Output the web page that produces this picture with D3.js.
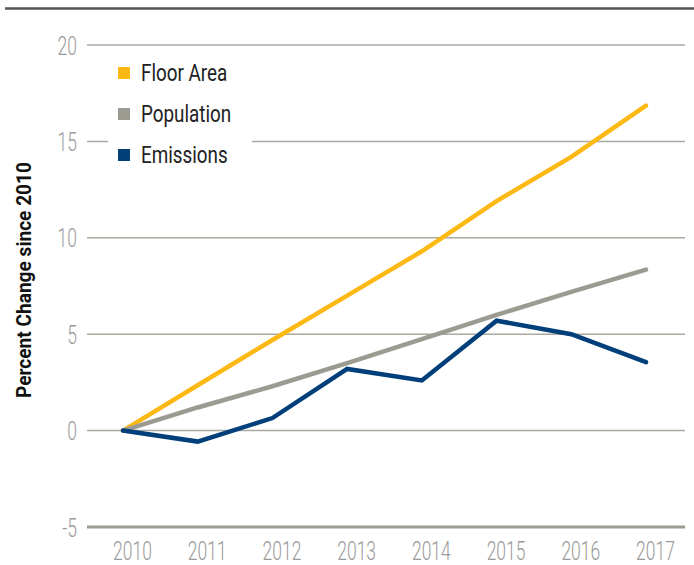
<!DOCTYPE html>
<html><head><meta charset="utf-8">
<script src="https://cdn.jsdelivr.net/npm/d3@7"></script>
<style>body{margin:0;background:#fff}svg{display:block}</style>
</head><body><svg id="c" width="694" height="565"></svg>
<script>
const years = [2010, 2011, 2012, 2013, 2014, 2015, 2016, 2017];
const floorArea = [0, 2.35, 4.7, 7.0, 9.3, 11.9, 14.2, 16.85];
const population = [0, 1.2, 2.3, 3.5, 4.75, 6.0, 7.2, 8.35];
const emissions = [0, -0.57, 0.65, 3.2, 2.6, 5.7, 5.0, 3.55];
const yTicks = [-5, 0, 5, 10, 15, 20];
const seriesNames = ["Floor Area", "Population", "Emissions"];
const colors = ["#FDB913", "#9B9B92", "#003F7A"];

const font = "Roboto, 'Liberation Sans', sans-serif";
const svg = d3.select("#c");
svg.append("line").attr("x1",5).attr("x2",694).attr("y1",8.5).attr("y2",8.5)
  .attr("stroke","#555").attr("stroke-width",2.5);

const x = d3.scaleLinear().domain([2010,2017]).range([123,646]);
const y = d3.scaleLinear().domain([-5,20]).range([527,45]);

const yAxis = d3.axisLeft(y).tickValues(yTicks).tickSize(0).tickPadding(0).tickFormat(d=>String(d));
const gy = svg.append("g").attr("transform","translate(77,0)").call(yAxis);
gy.select(".domain").remove();
gy.selectAll("text").attr("font-family",font).attr("font-weight",300).attr("font-size",25)
  .attr("fill","#9a9a9a").attr("dy","0.36em").attr("x",0).attr("transform","scale(0.7,1)");

svg.append("g").selectAll("line").data(yTicks).join("line")
  .attr("x1",87).attr("x2",685).attr("y1",d=>y(d)).attr("y2",d=>y(d))
  .attr("stroke",d=>d===-5?"#9c9c92":"#a9a9a0").attr("stroke-width",d=>d===-5?3:1.5);

const xAxis = d3.axisBottom(x).tickValues(years).tickFormat(d3.format("d")).tickSize(0).tickPadding(0);
const gx = svg.append("g").attr("transform","translate(9,551)").call(xAxis);
gx.select(".domain").remove();
gx.selectAll("text").attr("font-family",font).attr("font-weight",300).attr("font-size",25)
  .attr("fill","#9a9a9a").attr("y",0).attr("dy","0.36em").attr("transform","scale(0.7,1)");

svg.append("text").attr("transform","translate(31,280) rotate(-90)").attr("text-anchor","middle")
  .attr("font-family",font).attr("font-weight","bold").attr("font-size",21).attr("fill","#111")
  .attr("textLength",236).attr("lengthAdjust","spacingAndGlyphs")
  .text("Percent Change since 2010");

const line = d3.line().x((d,i)=>x(years[i])).y(d=>y(d));
[floorArea, population, emissions].forEach((s,k)=>{
  svg.append("path").datum(s).attr("d",line).attr("fill","none")
    .attr("stroke",colors[k]).attr("stroke-width",4.5).attr("stroke-linejoin","miter").attr("stroke-linecap","round");
});
svg.append("rect").attr("x",108).attr("y",55).attr("width",144).attr("height",120).attr("fill","#fff");
const lg = svg.append("g");
seriesNames.forEach((n,k)=>{
  const cy = 73 + k*41;
  lg.append("rect").attr("x",118).attr("y",cy-6).attr("width",12).attr("height",12).attr("fill",colors[k]);
  lg.append("g").attr("transform",`translate(141,${cy}) scale(0.82,1)`)
    .append("text").attr("dy","0.36em").attr("font-family",font)
    .attr("font-size",23).attr("fill","#222").text(n);
});
</script></body></html>
